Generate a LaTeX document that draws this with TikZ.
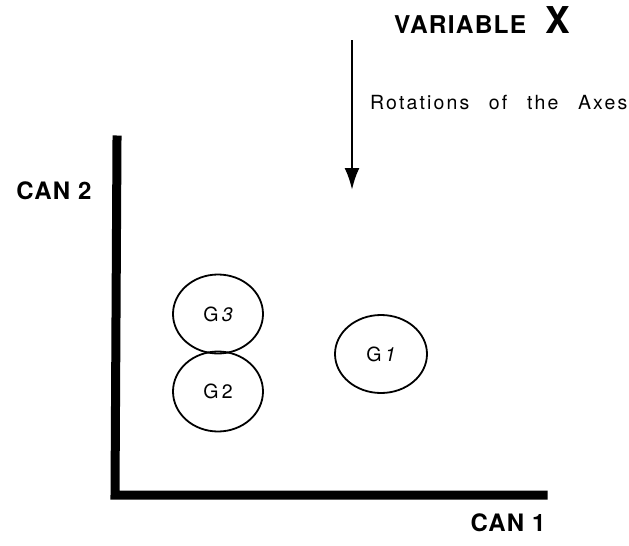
\documentclass[tikz,border=0pt]{standalone}
\usepackage{fontspec}
\setmainfont{TeX Gyre Heros}
\newfontfamily\spacedfont[LetterSpace=11,WordSpace=2.6]{TeX Gyre Heros}
\newfontfamily\boldspaced[LetterSpace=5]{TeX Gyre Heros Bold}
\usepackage{tikz}
\usetikzlibrary{arrows.meta, positioning, shapes.geometric}

\begin{document}
\begin{tikzpicture}[x=1pt, y=-1pt,
    group/.style={ellipse, draw, line width=1.8pt, inner sep=0pt, font=\fontsize{19.5}{21}\selectfont},
    axislabel/.style={font=\boldspaced\fontsize{24}{26}\selectfont, inner sep=0pt},
    axisline/.style={line width=9pt, line join=miter, line cap=rect},
    arr/.style={-{Latex[length=22pt, width=15pt]}, line width=2.6pt}]

  \useasboundingbox (0,0) rectangle (629,546);

  % Axes
  \coordinate (ytop) at (117,140);
  \coordinate (origin) at (115,495);
  \coordinate (xend) at (543,495);
  \draw[axisline] (ytop) -- (origin) -- (xend);

  \node[axislabel] (can2) at (54,191) {CAN\,\,2};
  \node[axislabel] (can1) at (508,523) {CAN\,\,1};

  % Groups
  \node[group, minimum width=90pt, minimum height=79pt] (g3) at (218,314) {G\,\textit{3}};
  \node[group, minimum width=90pt, minimum height=80pt] (g2) at (218,391.5) {G\,2};
  \node[group, minimum width=92pt, minimum height=78pt] (g1) at (381,354) {G\,\textit{1}};

  % Variable X
  \node[font=\boldspaced\fontsize{24.5}{26}\selectfont, inner sep=0pt, anchor=base west] (varx) at (394,33)
    {VARIABLE\hspace{19pt}{\fontsize{37}{38}\selectfont X}};

  \coordinate (rottop) at (352,40);
  \coordinate (rotbot) at (352,190);
  \draw[arr] (rottop) -- (rotbot);
  \node[font={\spacedfont\fontsize{19.5}{21}\selectfont}, inner sep=0pt, anchor=base west] (rot) at (370,109)
    {Rotations of the Axes};
\end{tikzpicture}
\end{document}
